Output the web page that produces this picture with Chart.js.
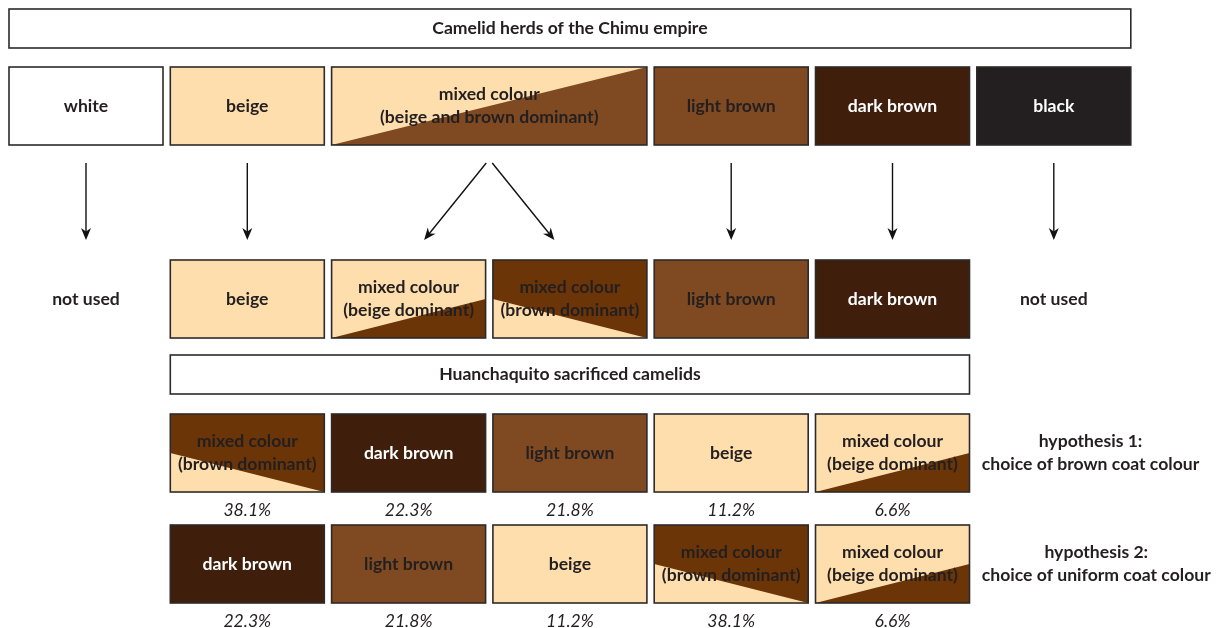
<!DOCTYPE html>
<html>
<head>
<meta charset="utf-8">
<script src="https://cdn.jsdelivr.net/npm/chart.js@4.4.0/dist/chart.umd.min.js"></script>
<style>
  body { margin: 0; background: #fff; }
  #wrap { width: 1220px; height: 628px; }
</style>
</head>
<body>
<div id="wrap"><canvas id="diagram" width="1220" height="628"></canvas></div>
<script>
// coat colour categories
const coatKeys   = ['white', 'beige', 'mixed', 'mixBeige', 'mixBrown', 'light', 'dark', 'black'];
const coatLabels = ['white', 'beige', 'mixed colour\n(beige and brown dominant)', 'mixed colour\n(beige dominant)',
                    'mixed colour\n(brown dominant)', 'light brown', 'dark brown', 'black'];

// herds of the Chimu empire (top row): coat, column, column span
const herdCoats = ['white', 'beige', 'mixed', 'light', 'dark', 'black'];
const herdCols  = [0, 1, 2, 4, 5, 6];
const herdSpans = [1, 1, 2, 1, 1, 1];

// coats used (second row), null = not used
const usedCoats = [null, 'beige', 'mixBeige', 'mixBrown', 'light', 'dark', null];

// arrows: herd column -> used column
const arrowFrom = [0, 1, 2, 2, 4, 5, 6];
const arrowTo   = [0, 1, 2, 3, 4, 5, 6];

// Huanchaquito sacrificed camelids, share in %
const hyp1Coats  = ['mixBrown', 'dark', 'light', 'beige', 'mixBeige'];
const hyp1Shares = [38.1, 22.3, 21.8, 11.2, 6.6];
const hyp2Coats  = ['dark', 'light', 'beige', 'mixBrown', 'mixBeige'];
const hyp2Shares = [22.3, 21.8, 11.2, 38.1, 6.6];

const titles    = ['Camelid herds of the Chimu empire', 'Huanchaquito sacrificed camelids'];
const hypLabels = ['hypothesis 1:\nchoice of brown coat colour', 'hypothesis 2:\nchoice of uniform coat colour'];
const notUsed   = 'not used';

// styles
const BEIGE = '#FFDEAD', LIGHT = '#7F4A21', DARK = '#3F1F0C', BLACK = '#231F20', MIDBROWN = '#6B3508';
const INK = '#231F20';
const coatStyle = {
  white:    { base: '#FFFFFF', text: INK },
  beige:    { base: BEIGE, text: INK },
  mixed:    { base: BEIGE, tri: LIGHT, cut: 'full', text: INK },
  mixBeige: { base: BEIGE, tri: MIDBROWN, cut: 'rise', text: INK },
  mixBrown: { base: MIDBROWN, tri: BEIGE, cut: 'fall', text: INK },
  light:    { base: LIGHT, text: INK },
  dark:     { base: DARK, text: '#FFFFFF' },
  black:    { base: BLACK, text: '#FFFFFF' }
};
const FONT = 'Lato, "Open Sans", sans-serif';
const BOLD = 'bold 17.6px ' + FONT;
const ITAL = 'italic 17.6px ' + FONT;

// vertical layout (y scale runs in px units, top down)
const layout = {
  titleTop: 9, titleH: 39,
  herdTop: 67, boxH: 78,
  arrowTop: 163, arrowBottom: 240,
  usedTop: 260,
  sacTop: 355,
  hyp1Top: 414, hyp2Top: 525,
  pctGap: 18
};
const PITCH = 161.3;         // px per column
const BOXW = 154 / PITCH;    // box width in column units

function lines(ctx, text, cx, cy, lh) {
  const parts = text.split('\n');
  parts.forEach((p, i) => {
    ctx.fillText(p, cx, cy + (i - (parts.length - 1) / 2) * lh);
  });
}

function drawBox(ctx, key, l, t, w, h) {
  const s = coatStyle[key];
  ctx.fillStyle = s.base;
  ctx.fillRect(l, t, w, h);
  if (s.tri) {
    ctx.beginPath();
    if (s.cut === 'full') {
      ctx.moveTo(l, t + h); ctx.lineTo(l + w, t); ctx.lineTo(l + w, t + h);
    } else if (s.cut === 'rise') {
      ctx.moveTo(l, t + h); ctx.lineTo(l + w, t + h * 0.5); ctx.lineTo(l + w, t + h);
    } else {
      ctx.moveTo(l, t + h * 0.5); ctx.lineTo(l + w, t + h); ctx.lineTo(l, t + h);
    }
    ctx.closePath();
    ctx.fillStyle = s.tri;
    ctx.fill();
  }
  ctx.lineWidth = 1.6;
  ctx.strokeStyle = '#2e2a2a';
  ctx.strokeRect(l, t, w, h);
  ctx.fillStyle = s.text;
  ctx.font = BOLD;
  ctx.textAlign = 'center';
  ctx.textBaseline = 'middle';
  lines(ctx, coatLabels[coatKeys.indexOf(key)], l + w / 2, t + h / 2, 23);
}

function drawArrow(ctx, x1, y1, x2, y2) {
  ctx.strokeStyle = '#111';
  ctx.fillStyle = '#111';
  ctx.lineWidth = 1.4;
  const a = Math.atan2(y2 - y1, x2 - x1);
  const len = 12, half = 5;
  ctx.beginPath();
  ctx.moveTo(x1, y1);
  ctx.lineTo(x2 - Math.cos(a) * 8, y2 - Math.sin(a) * 8);
  ctx.stroke();
  ctx.beginPath();
  ctx.moveTo(x2, y2);
  ctx.lineTo(x2 - Math.cos(a) * len + Math.sin(a) * half, y2 - Math.sin(a) * len - Math.cos(a) * half);
  ctx.lineTo(x2 - Math.cos(a) * len * 0.7, y2 - Math.sin(a) * len * 0.7);
  ctx.lineTo(x2 - Math.cos(a) * len - Math.sin(a) * half, y2 - Math.sin(a) * len + Math.cos(a) * half);
  ctx.closePath();
  ctx.fill();
}

const diagramPlugin = {
  id: 'diagram',
  afterDraw(chart) {
    const ctx = chart.ctx;
    const xs = chart.scales.x, ys = chart.scales.y;
    const L = c => xs.getPixelForValue(c);
    const W = span => xs.getPixelForValue(span - 1 + BOXW) - xs.getPixelForValue(0);
    const Y = v => ys.getPixelForValue(v);
    const cx = (c, span) => L(c) + W(span) / 2;
    const bh = Y(layout.boxH) - Y(0);
    ctx.save();

    // title bars
    const titleRows = [[0, 7, layout.titleTop], [1, 5, layout.sacTop]];
    titleRows.forEach(([c, span, top], i) => {
      const l = L(c), w = W(span), t = Y(top), h = Y(layout.titleH) - Y(0);
      ctx.fillStyle = '#fff';
      ctx.fillRect(l, t, w, h);
      ctx.lineWidth = 1.6;
      ctx.strokeStyle = '#2e2a2a';
      ctx.strokeRect(l, t, w, h);
      ctx.fillStyle = INK;
      ctx.font = BOLD;
      ctx.textAlign = 'center';
      ctx.textBaseline = 'middle';
      ctx.fillText(titles[i], l + w / 2, t + h / 2);
    });

    // herd row
    herdCoats.forEach((k, i) => {
      drawBox(ctx, k, L(herdCols[i]), Y(layout.herdTop), W(herdSpans[i]), bh);
    });

    // arrows
    arrowFrom.forEach((f, i) => {
      const hi = herdCols.indexOf(f);
      const src = cx(f, herdSpans[hi]);
      const dst = cx(arrowTo[i], 1);
      if (herdSpans[hi] > 1) {
        const s = src + (dst < src ? -3 : 3);
        drawArrow(ctx, s, Y(layout.arrowTop), s + (dst - s) * 0.8, Y(layout.arrowBottom));
      } else {
        drawArrow(ctx, src, Y(layout.arrowTop), dst, Y(layout.arrowBottom));
      }
    });

    // used row
    usedCoats.forEach((k, c) => {
      if (k) {
        drawBox(ctx, k, L(c), Y(layout.usedTop), W(1), bh);
      } else {
        ctx.fillStyle = INK;
        ctx.font = BOLD;
        ctx.textAlign = 'center';
        ctx.textBaseline = 'middle';
        ctx.fillText(notUsed, cx(c, 1), Y(layout.usedTop) + bh / 2);
      }
    });

    // hypotheses
    [[hyp1Coats, hyp1Shares, layout.hyp1Top], [hyp2Coats, hyp2Shares, layout.hyp2Top]].forEach(([coats, shares, top], r) => {
      coats.forEach((k, i) => {
        const c = i + 1;
        drawBox(ctx, k, L(c), Y(top), W(1), bh);
        ctx.fillStyle = INK;
        ctx.font = ITAL;
        ctx.textAlign = 'center';
        ctx.textBaseline = 'middle';
        ctx.fillText(shares[i].toFixed(1) + '%', cx(c, 1), Y(top) + bh + Y(layout.pctGap) - Y(0));
      });
      ctx.font = BOLD;
      const parts = hypLabels[r].split('\n');
      const maxW = Math.max(...parts.map(p => ctx.measureText(p).width));
      ctx.fillStyle = INK;
      ctx.textAlign = 'center';
      ctx.textBaseline = 'middle';
      lines(ctx, hypLabels[r], L(6) + 5 + maxW / 2, Y(top) + bh / 2, 23);
    });

    ctx.restore();
  }
};

new Chart(document.getElementById('diagram'), {
  type: 'scatter',
  data: { datasets: [] },
  options: {
    responsive: false,
    animation: false,
    layout: { padding: 0 },
    plugins: { legend: { display: false }, tooltip: { enabled: false } },
    scales: {
      x: { type: 'linear', display: false, min: -9 / PITCH, max: (1220 - 9) / PITCH },
      y: { type: 'linear', display: false, min: 0, max: 628, reverse: true }
    }
  },
  plugins: [diagramPlugin]
});
</script>
</body>
</html>
